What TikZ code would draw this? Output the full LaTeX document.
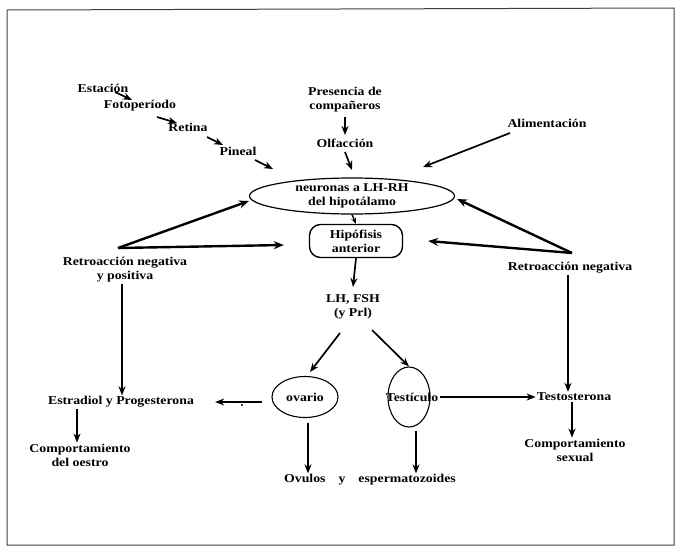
\documentclass[tikz,border=0pt]{standalone}
\usepackage{fontspec}
\setmainfont{Liberation Serif}[FakeStretch=1.15]
\usetikzlibrary{arrows.meta,shapes.geometric}
\begin{document}
\begin{tikzpicture}[x=1pt,y=-1pt,
  txt/.style={font=\fontsize{12}{14}\selectfont\bfseries, align=center, inner sep=1pt},
  arr/.style={-{Stealth[length=9pt,width=7pt]}, line width=1.7pt},
  thk/.style={-{Stealth[length=10pt,width=8pt]}, line width=2.4pt},
  ell/.style={draw, ellipse, line width=1.1pt, inner sep=0pt}
  ]
\useasboundingbox (0,0) rectangle (677,549);
\draw[line width=1pt, black!75] (7,10) -- (674,8) -- (674,545) -- (7,545) -- cycle;

% nodes
\node[txt] (est) at (103,88) {Estación};
\node[txt] (foto) at (140,106) {Fotoperíodo};
\node[txt] (ret) at (188,127) {Retina};
\node[txt] (pin) at (238,151) {Pineal};
\node[txt] (pres) at (345,100) {Presencia de\\compañeros};
\node[txt] (olf) at (345,143) {Olfacción};
\node[txt] (alim) at (547,123) {Alimentación};
\node[ell, line width=1.2pt, minimum width=205pt, minimum height=36pt] (neur) at (352,196) {};
\node[txt] (neurt) at (352,196) {neuronas a LH-RH\\del hipotálamo};
\node[txt, draw, rounded corners=11pt, line width=1.4pt, minimum width=93pt, minimum height=33pt, inner sep=0pt] (hip) at (356,241) {Hipófisis\\anterior};
\node[txt] (lh) at (353,307) {LH, FSH\\(y Prl)};
\node[txt, ell, minimum width=66pt, minimum height=41pt] (ov) at (305,397) {ovario};
\node[ell, minimum width=42pt, minimum height=60pt] (test) at (409,397) {};
\node[txt] (testt) at (412,397) {Testículo};
\node[txt] (ovu) at (370,480) {Ovulos\hspace{13pt}y\hspace{13pt}espermatozoides};
\node[txt] (retL) at (125,270) {Retroacción negativa\\y positiva};
\node[txt] (estr) at (121,402) {Estradiol y Progesterona};
\node[txt] (comp1) at (80,455) {Comportamiento\\del oestro};
\node[txt] (retR) at (570,268) {Retroacción negativa};
\node[txt] (testo) at (574,397) {Testosterona};
\node[txt] (comp2) at (575,450) {Comportamiento\\sexual};

% chain of environment inputs
\draw[arr] ([xshift=12pt,yshift=-4pt]est.center) -- ([xshift=-8pt,yshift=6pt]foto.center);
\draw[arr] ([xshift=17pt,yshift=-11pt]foto.center) -- ([xshift=-11pt,yshift=4pt]ret.center);
\draw[arr] ([xshift=19pt,yshift=-10pt]ret.center) -- ([xshift=-15pt,yshift=6pt]pin.center);
\draw[arr] ([xshift=17pt,yshift=-9pt]pin.center) -- ([xshift=-79pt,yshift=27pt]neur.center);
\draw[arr] ([yshift=-17pt]pres.center) -- ([yshift=8pt]olf.center);
\draw[arr] ([yshift=-9pt]olf.center) -- ([yshift=26pt]neur.center);
\draw[arr] ([xshift=-37pt,yshift=-10pt]alim.center) -- ([xshift=71pt,yshift=29pt]neur.center);

% central axis
\draw[-{Stealth[length=6pt,width=5pt]}, line width=1.4pt] (neur.south) -- (hip.north);
\draw[arr] (hip.south) -- ([yshift=20pt]lh.center);
\draw[arr] ([xshift=-13pt,yshift=-26pt]lh.center) -- ([xshift=5pt,yshift=25pt]ov.center);
\draw[arr] ([xshift=19pt,yshift=-23pt]lh.center) -- (test.north);
\draw[arr] ([xshift=3pt,yshift=-5pt]ov.south) -- ([xshift=3pt]ov.south |- ovu.north);
\draw[arr] ([xshift=7pt,yshift=-3pt]test.south) -- ([xshift=7pt]test.south |- ovu.north);
\draw[arr] ([xshift=31pt]test.center) -- (testo.west);
\draw[arr] ([xshift=-43pt,yshift=-5pt]ov.center) -- ([xshift=20pt]estr.east);
\fill (242,405) circle (1.2pt);

% left feedback
\coordinate (pL) at ([xshift=-7pt,yshift=22pt]retL.center);
\draw[thk] (pL) -- ([yshift=-5pt]neur.west);
\draw[thk] (pL) -- ([xshift=-25pt,yshift=-4pt]hip.west);
\draw[arr] ([xshift=-3pt]retL.south) -- ([xshift=-3pt]retL.south |- estr.north);
\draw[arr] ([xshift=-44pt]estr.south) -- ([xshift=-44pt]estr.south |- comp1.north);

% right feedback
\coordinate (pR) at ([xshift=2pt,yshift=15pt]retR.center);
\draw[thk] (pR) -- ([xshift=2pt,yshift=-3pt]neur.east);
\draw[thk] (pR) -- ([xshift=25pt]hip.east);
\draw[arr] ([xshift=-2pt]retR.south) -- ([xshift=-2pt]retR.south |- testo.north);
\draw[arr] ([xshift=-2pt]testo.south) -- ([xshift=-2pt]testo.south |- comp2.north);
\end{tikzpicture}
\end{document}
